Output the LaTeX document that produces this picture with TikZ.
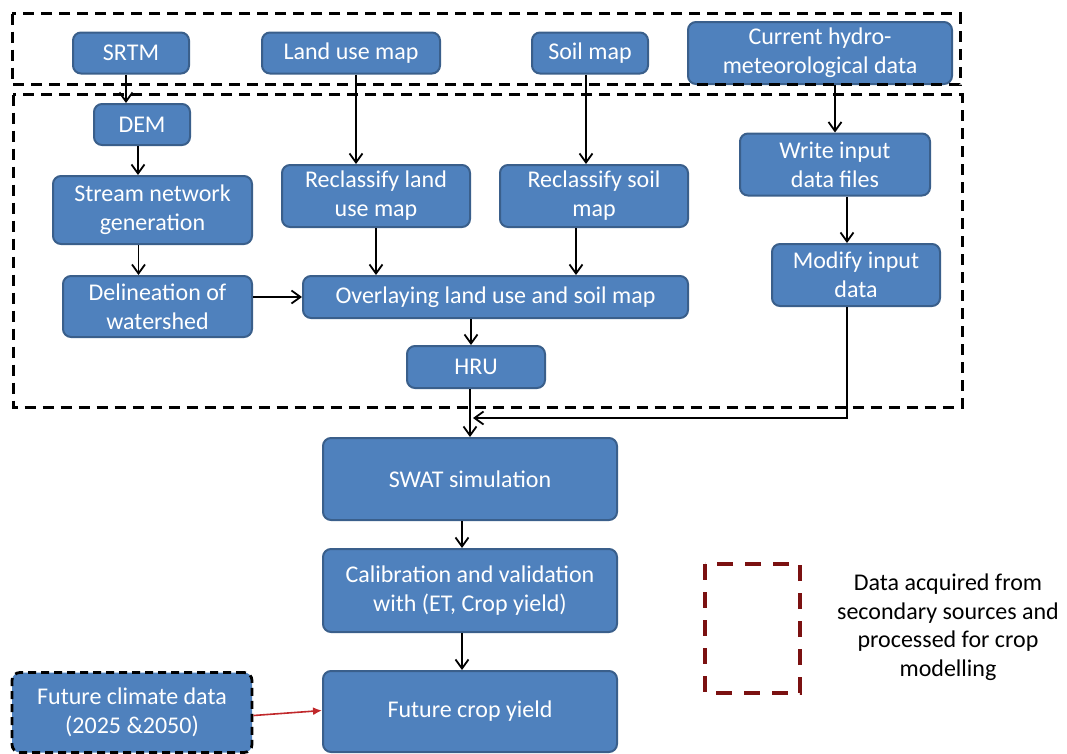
\documentclass[tikz,border=0pt]{standalone}
\usepackage{fontspec}
\setmainfont{Carlito}
\usepackage{xcolor}
\usepackage{tikz}
\usetikzlibrary{arrows.meta,positioning,calc}
\definecolor{BoxBlue}{HTML}{4F81BD}
\definecolor{BoxEdge}{HTML}{3A5F8B}
\definecolor{DarkRed}{HTML}{7B1111}
\definecolor{ArrowRed}{HTML}{C0282B}

\begin{document}
\begin{tikzpicture}[x=1pt,y=-1pt,font=\fontsize{24}{29}\selectfont,
  blk/.style={draw=BoxEdge,line width=2pt,rounded corners=8pt,fill=BoxBlue,text=white,align=center,inner sep=0pt},
  arr/.style={-{Straight Barb[length=9pt,width=13pt,line width=1.8pt]},line width=1.8pt,black},
  frame/.style={draw=black,line width=3pt,dash pattern=on 11pt off 7pt}]
  \useasboundingbox (0,0) rectangle (1067,753);
  % input data
  \node[blk,minimum width=116,minimum height=41] (srtm) at (131,53) {SRTM};
  \node[blk,minimum width=178,minimum height=41] (landuse) at (351,53) {Land use map};
  \node[blk,minimum width=116,minimum height=41] (soil) at (590,53) {Soil map};
  \node[blk,minimum width=264,minimum height=62] (hydro) at (820,53) {Current hydro-\\meteorological data};
  % processing
  \node[blk,minimum width=96,minimum height=41] (dem) at (142,124.5) {DEM};
  \node[blk,minimum width=199,minimum height=68] (stream) at (152.5,210) {Stream network\\generation};
  \node[blk,minimum width=189,minimum height=61] (delin) at (157.5,306.5) {Delineation of\\watershed};
  \node[blk,minimum width=188,minimum height=62] (reland) at (376,196) {Reclassify land\\use map};
  \node[blk,minimum width=188,minimum height=62] (resoil) at (594,196) {Reclassify soil\\map};
  \node[blk,minimum width=385,minimum height=42] (overlay) at (495.5,297) {Overlaying land use and soil map};
  \node[blk,minimum width=138,minimum height=42] (hru) at (476,367) {HRU};
  \node[blk,minimum width=190,minimum height=62] (write) at (835,164.5) {Write input\\data files};
  \node[blk,minimum width=168,minimum height=62] (modify) at (856,275) {Modify input\\data};
  % modelling
  \node[blk,minimum width=294,minimum height=82] (swat) at (470,479) {SWAT simulation};
  \node[blk,minimum width=294,minimum height=83] (calib) at (470,590.5) {Calibration and validation\\with (ET, Crop yield)};
  \node[blk,minimum width=294,minimum height=81] (future) at (470,711.5) {Future crop yield};
  \node[blk,draw=black,line width=2.8pt,dash pattern=on 8pt off 5pt,minimum width=240,minimum height=80] (climate) at (132,712.5) {Future climate data\\(2025 \&2050)};
  % frames and legend
  \draw[frame] (12,13.5) rectangle (960,84.5);
  \draw[frame] (13,94.5) rectangle (962,407);
  \draw[frame,draw=DarkRed,line width=3.8pt,dash pattern=on 16pt off 12pt] (705,564) rectangle (800,693);
  \node[align=center,font=\fontsize{24}{28.5}\selectfont] (legend) at (948,627)
    {Data acquired from\\secondary sources and\\processed for crop\\modelling};
  % connectors
  \draw[arr] ([xshift=-5pt]srtm.south) -- ([xshift=-5pt]srtm.south |- dem.north);
  \draw[arr] ([xshift=-4pt]dem.south) -- ([xshift=-4pt]dem.south |- stream.north);
  \draw[arr] ([xshift=-14pt]stream.south) -- ([xshift=-14pt]stream.south |- delin.north);
  \draw[arr] ([xshift=5pt]landuse.south) -- ([xshift=5pt]landuse.south |- reland.north);
  \draw[arr] (reland) -- (reland |- overlay.north);
  \draw[arr] ([xshift=-4pt]soil.south) -- ([xshift=-4pt]soil.south |- resoil.north);
  \draw[arr] ([xshift=-18pt]resoil.south) -- ([xshift=-18pt]resoil.south |- overlay.north);
  \draw[arr] (write |- hydro.south) -- (write);
  \draw[arr] ([xshift=12pt]write.south) -- ([xshift=12pt]write.south |- modify.north);
  \draw[arr] (overlay -| delin.east) -- (overlay.west);
  \draw[arr] ([xshift=-5pt]hru.north |- overlay.south) -- ([xshift=-5pt]hru.north);
  \draw[arr] (hru.south -| swat.north) -- (swat.north);
  \coordinate (merge) at ([xshift=3pt,yshift=19pt]swat.north);
  \draw[arr] ([xshift=-9pt]modify.south) |- (merge);
  \draw[arr] ([xshift=-8pt]swat.south) -- ([xshift=-8pt]swat.south |- calib.north);
  \draw[arr] ([xshift=-8pt]calib.south) -- ([xshift=-8pt]calib.south |- future.north);
  \draw[-{Latex[length=9pt,width=8pt]},line width=1.6pt,ArrowRed] ([yshift=-3pt]climate.east) -- ([yshift=1pt]future.west);
\end{tikzpicture}
\end{document}
